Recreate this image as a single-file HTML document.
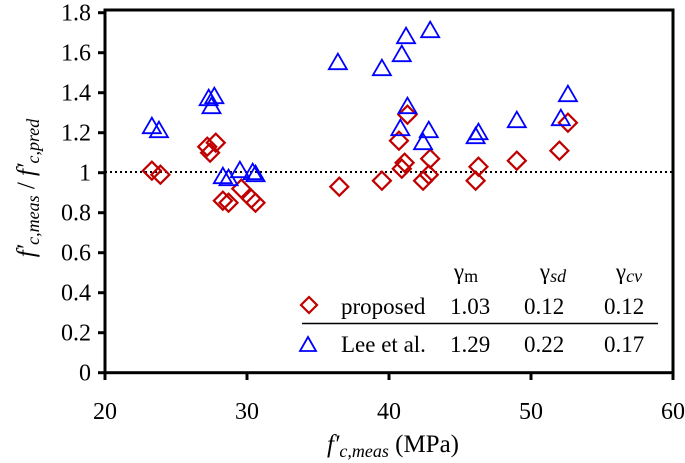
<!DOCTYPE html>
<html><head><meta charset="utf-8"><style>
body{margin:0;background:#fff}
svg{display:block;font-family:"Liberation Serif","Times New Roman",serif}
svg text{font-family:"Liberation Serif","Times New Roman",serif;fill:#000}
</style></head><body>
<svg id="chart" width="685" height="463" font-family="Liberation Serif, serif">
<g id="frame">
<rect x="105" y="10" width="568" height="362.7" fill="none" stroke="#000" stroke-width="3"/>
</g>
<g id="axes"></g>
<line x1="105" x2="673" y1="172" y2="172" stroke="#000" stroke-width="2" stroke-dasharray="2,3"/>
<g id="marks"></g>
<text x="34" y="188" font-size="25" text-anchor="middle" transform="rotate(-90 34 188)"><tspan font-style="italic">f′</tspan><tspan font-style="italic" font-size="18" dy="5">c,meas</tspan><tspan dy="-5"> / </tspan><tspan font-style="italic">f′</tspan><tspan font-style="italic" font-size="18" dy="5">c,pred</tspan></text>
<text x="393" y="452" font-size="25" text-anchor="middle"><tspan font-style="italic">f′</tspan><tspan font-style="italic" font-size="18" dy="5">c,meas</tspan><tspan dy="-5"> (MPa)</tspan></text>
<g id="legend">
<text x="466" y="279" font-size="23" text-anchor="middle">γ<tspan font-size="18" dy="3">m</tspan></text>
<text x="553" y="279" font-size="23" text-anchor="middle">γ<tspan font-size="18" font-style="italic" dy="3">sd</tspan></text>
<text x="629" y="279" font-size="23" text-anchor="middle">γ<tspan font-size="18" font-style="italic" dy="3">cv</tspan></text>
<polygon points="309,297 317,305 309,313 301,305" fill="none" stroke="#c00000" stroke-width="2.2"/>
<text x="341" y="314" font-size="23">proposed</text>
<text x="450" y="314" font-size="23">1.03</text>
<text x="524" y="314" font-size="23">0.12</text>
<text x="604" y="314" font-size="23">0.12</text>
<line x1="302" x2="658" y1="323.5" y2="323.5" stroke="#000" stroke-width="1.5"/>
<polygon points="300,351 316,351 308,337" fill="none" stroke="#0000ff" stroke-width="1.8"/>
<text x="341" y="352" font-size="23">Lee et al.</text>
<text x="450" y="352" font-size="23">1.29</text>
<text x="524" y="352" font-size="23">0.22</text>
<text x="604" y="352" font-size="23">0.17</text>
</g>
</svg>
<script>
const xTicks=[20,30,40,50,60];
const yTicks=[0,0.2,0.4,0.6,0.8,1,1.2,1.4,1.6,1.8];
const yTickLabels=["0","0.2","0.4","0.6","0.8","1","1.2","1.4","1.6","1.8"];
const leeX=[23.3,23.8,27.3,27.7,27.5,28.3,28.7,29.5,30.4,30.6,36.4,39.5,40.9,41.2,40.8,41.3,42.4,42.8,42.9,46.1,46.3,49.0,52.1,52.6];
const leeY=[1.23,1.21,1.37,1.38,1.33,0.98,0.97,1.01,1.0,0.99,1.55,1.52,1.59,1.68,1.22,1.33,1.15,1.21,1.71,1.18,1.20,1.26,1.27,1.39];
const propX=[23.3,23.9,27.2,27.4,27.8,28.3,28.7,29.6,30.3,30.6,36.5,39.5,40.7,40.9,41.1,41.3,42.4,42.8,42.9,46.1,46.3,49.0,52.0,52.6];
const propY=[1.01,0.99,1.13,1.10,1.15,0.86,0.85,0.92,0.87,0.85,0.93,0.96,1.16,1.02,1.05,1.29,0.96,0.99,1.07,0.96,1.03,1.06,1.11,1.25];
const NS="http://www.w3.org/2000/svg";
const sx=v=>105+(v-20)*14.2;
const sy=v=>372.7-v*200;
const axes=document.getElementById('axes'),marks=document.getElementById('marks');
function mk(tag,attrs,parent){const e=document.createElementNS(NS,tag);for(const k in attrs)e.setAttribute(k,attrs[k]);parent.appendChild(e);return e;}
xTicks.forEach(t=>{
 const l=mk('line',{x1:sx(t),x2:sx(t),y1:372.7,y2:380,stroke:'#000','stroke-width':3},axes);
 
 
 const tx=mk('text',{x:sx(t),y:419,'font-size':24,'text-anchor':'middle'},axes);
 tx.textContent=t;
 
 
});
yTicks.forEach((t,i)=>{
 const l=mk('line',{x1:98,x2:105,y1:sy(t),y2:sy(t),stroke:'#000','stroke-width':3},axes);
 
 
 const tx=mk('text',{x:91,y:sy(t)+8,'font-size':24,'text-anchor':'end'},axes);
 tx.textContent=yTickLabels[i];
 
 
});
propX.forEach((x,i)=>{
 const cx=sx(x),cy=sy(propY[i]);
 const p=mk('polygon',{points:`${cx},${cy-9} ${cx+9},${cy} ${cx},${cy+9} ${cx-9},${cy}`,fill:'none',stroke:'#c00000','stroke-width':2.2},marks);
 
 
});
leeX.forEach((x,i)=>{
 const cx=sx(x),cy=sy(leeY[i]);
 const p=mk('polygon',{points:`${cx-9},${cy+6.5} ${cx+9},${cy+6.5} ${cx},${cy-9}`,fill:'none',stroke:'#0000ff','stroke-width':1.8},marks);
 
 
});
</script>
</body></html>
